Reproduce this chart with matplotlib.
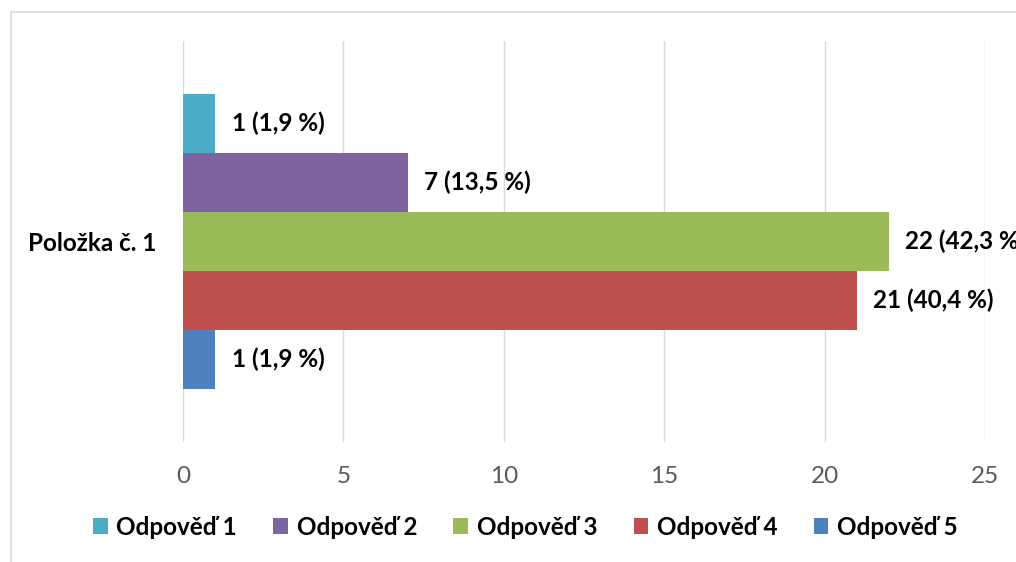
"""Horizontal grouped bar chart of answers for one survey item."""

import matplotlib

matplotlib.use("Agg")
import matplotlib.pyplot as plt
from matplotlib.lines import Line2D
from matplotlib.patches import Patch

CATEGORIES = ["Položka č. 1"]
SERIES = ["Odpověď 1", "Odpověď 2", "Odpověď 3", "Odpověď 4", "Odpověď 5"]
VALUES = [1, 7, 22, 21, 1]
PERCENTS = ["1,9", "13,5", "42,3", "40,4", "1,9"]
COLORS = ["#4BACC6", "#8064A2", "#9BBB59", "#C0504D", "#4F81BD"]
X_TICKS = [0, 5, 10, 15, 20, 25]

FONT = ["Lato", "DejaVu Sans"]
FS = 17.5
plt.rcParams["font.family"] = FONT

fig = plt.figure(figsize=(10.16, 5.62), dpi=100)
ax = fig.add_axes([0.1801, 0.2135, 0.7894, 0.7135])

group_width = 0.736
bar_h = group_width / len(SERIES)
for i, (name, value, pct, color) in enumerate(zip(SERIES, VALUES, PERCENTS, COLORS)):
    offset = (len(SERIES) - 1) / 2 * bar_h - i * bar_h
    bars = ax.barh([offset], [value], height=bar_h, color=color, label=name, zorder=2)
    ax.bar_label(bars, labels=[f"{value} ({pct} %)"], padding=12,
                 fontsize=FS, fontweight="bold", color="black", clip_on=False)

ax.set_xlim(0, 25)
ax.set_ylim(-0.5, 0.5)
ax.set_xticks(X_TICKS)
ax.set_xticklabels([str(t) for t in X_TICKS], fontsize=FS, color="#595959")
ax.set_yticks([0])
ax.set_yticklabels(CATEGORIES, fontsize=FS, fontweight="bold", color="black")
ax.tick_params(axis="both", length=0)
ax.tick_params(axis="x", pad=17)
ax.tick_params(axis="y", pad=19)
ax.grid(axis="x", color="#D9D9D9", linewidth=1.0, zorder=0)
for spine in ax.spines.values():
    spine.set_visible(False)

handles = [Patch(facecolor=c, edgecolor="none") for c in COLORS]
fig.legend(handles, SERIES, loc="center", bbox_to_anchor=(0.517, 0.062), ncol=5,
           frameon=False, prop={"weight": "bold", "size": FS},
           handlelength=0.6, handleheight=0.6, handletextpad=0.35,
           columnspacing=1.5)

# outer chart border (top and left visible)
fig.add_artist(Line2D([0.0108, 0.0108], [0.0, 0.979], transform=fig.transFigure,
                      color="#D9D9D9", linewidth=1.2))
fig.add_artist(Line2D([0.0108, 1.0], [0.979, 0.979], transform=fig.transFigure,
                      color="#D9D9D9", linewidth=1.2))

fig.savefig("out.png", dpi=100)
